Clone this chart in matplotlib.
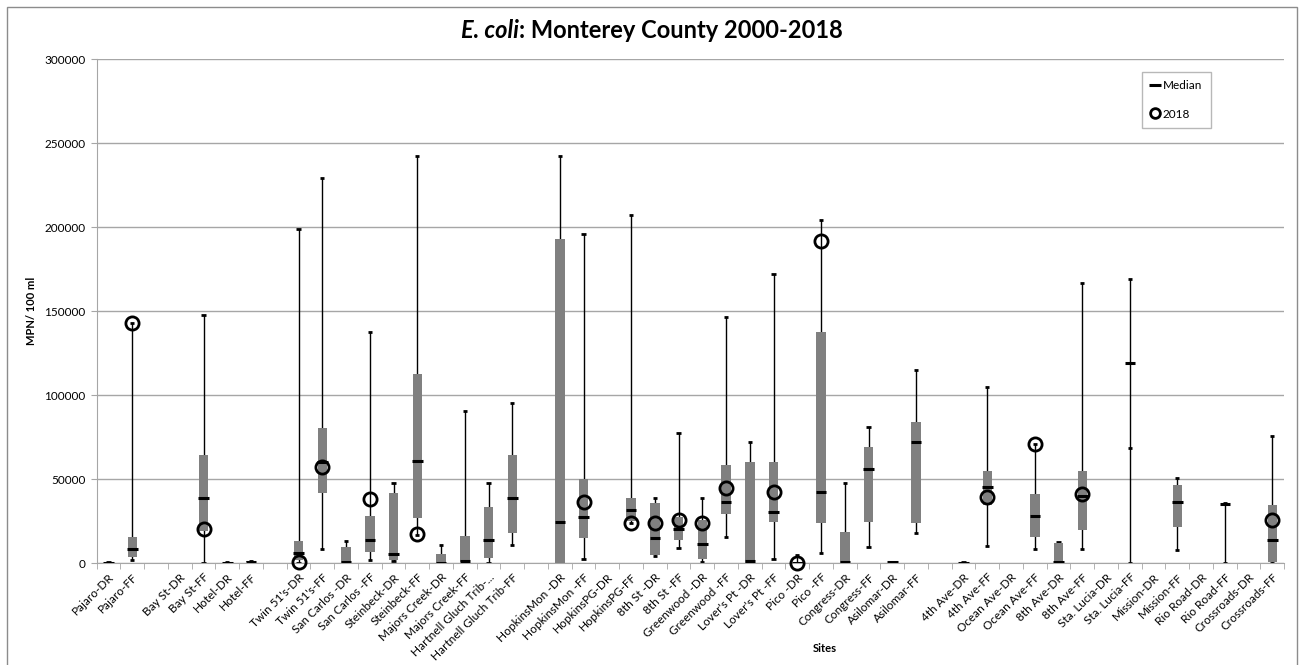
import matplotlib
matplotlib.use("Agg")
import matplotlib.pyplot as plt
from matplotlib.lines import Line2D
from matplotlib.offsetbox import TextArea, HPacker, AnchoredOffsetbox
from matplotlib.patches import Rectangle
import numpy as np

plt.rcParams['font.family'] = ['Lato', 'DejaVu Sans']

sites = ["Pajaro-DR", "Pajaro-FF", "", "Bay St-DR", "Bay St-FF", "Hotel-DR", "Hotel-FF", "",
         "Twin 51's-DR", "Twin 51's-FF", "San Carlos -DR", "San Carlos -FF", "Steinbeck-DR",
         "Steinbeck-FF", "Majors Creek-DR", "Majors Creek-FF", "Hartnell Gluch Trib-...",
         "Hartnell Gluch Trib-FF", "", "HopkinsMon -DR", "HopkinsMon -FF", "HopkinsPG-DR",
         "HopkinsPG-FF", "8th St -DR", "8th St -FF", "Greenwood -DR", "Greenwood -FF",
         "Lover's Pt -DR", "Lover's Pt -FF", "Pico -DR", "Pico -FF", "Congress-DR",
         "Congress-FF", "Asilomar-DR", "Asilomar-FF", "", "4th Ave-DR", "4th Ave-FF",
         "Ocean Ave-DR", "Ocean Ave-FF", "8th Ave-DR", "8th Ave-FF", "Sta. Lucia-DR",
         "Sta. Lucia-FF", "Mission-DR", "Mission-FF", "Rio Road-DR", "Rio Road-FF",
         "Crossroads-DR", "Crossroads-FF"]

N = None
mins = [0, 2000, N, N, 0, 0, 500, N,
        0, 8700, 0, 2000, 1600, 17000, 0, 0, 0, 10700, N,
        0, 2800, N, 24000, 4600, 9300, 600, 15900, 0, 2800, 0, 6300, 0, 9500, 0, 17900, N,
        0, 10500, N, 8500, 0, 8500, N, 0, N, 7900, N, 0, N, 0]
q1s = [0, 4000, N, N, 19000, 0, 600, N,
       2000, 42100, 0, 6900, 2000, 27200, 0, 600, 3200, 18300, N,
       0, 14900, N, 25000, 5000, 13900, 2600, 29400, 0, 24600, 0, 23800, 0, 24800, 200, 23800, N,
       0, 34700, N, 15900, 0, 19800, N, N, N, 21800, N, N, N, 1000]
medians = [100, 8700, N, N, 39100, 100, 1000, N,
           6300, 60000, 1000, 14100, 5600, 60900, 0, 1600, 13900, 39100, N,
           24800, 27800, N, 31700, 15300, 20400, 11300, 36500, 1600, 30600, 200, 42500, 1000, 56300, 800, 72000, N,
           300, 45600, N, 28400, 600, 40000, N, 119000, N, 36300, N, 35500, N, 13900]
q3s = [300, 15900, N, N, 64500, 300, 1200, N,
       13500, 80400, 9900, 28400, 41700, 112700, 5600, 16500, 33700, 64500, N,
       193000, 50000, N, 38700, 35700, 27800, 25800, 58500, 60100, 60100, 1000, 137500, 18800, 69400, 1000, 84300, N,
       500, 55200, N, 41100, 11900, 55000, N, N, N, 46600, N, N, N, 34700]
maxs = [500, 142800, N, N, 147800, 500, 1500, N,
        198800, 229200, 13500, 137300, 47600, 242000, 10700, 90700, 47600, 95200, N,
        242000, 196000, N, 207300, 39100, 77400, 39100, 146800, 72000, 172200, 5000, 204300, 47600, 81300, 1000, 115100, N,
        600, 104600, N, 70800, 12700, 167000, N, 169400, N, 50600, N, 35700, N, 76000]
y2018 = [N, 142800, N, N, 20400, N, N, N,
         600, 57000, N, 38300, N, 17500, N, N, N, N, N,
         N, 36500, N, 24000, 23800, 25800, 23800, 45000, N, 42500, 0, 192000, N, N, N, N, N,
         N, 39700, N, 70800, N, 41100, N, N, N, N, N, N, N, 25800]
extra_caps = {"Sta. Lucia-FF": 68400}

W, H = 1299, 665
fig = plt.figure(figsize=(W / 100, H / 100), dpi=100)
ax = fig.add_axes([96.7 / W, 1 - 563.3 / H, (1284.2 - 96.7) / W, (563.3 - 59) / H])

x = np.arange(len(sites))
box_w = 0.40
cap_w = 0.18
med_w = 0.44
gray = "#808080"

ax.set_axisbelow(True)
ax.yaxis.grid(True, color="#a6a6a6", lw=1.0)

for i, s in enumerate(sites):
    if maxs[i] is not None:
        ax.vlines(i, mins[i], maxs[i], color="black", lw=1.0, zorder=2)
        ax.hlines([mins[i], maxs[i]], i - cap_w / 2, i + cap_w / 2, color="black", lw=2.0, zorder=2)
    if s in extra_caps:
        ax.hlines(extra_caps[s], i - cap_w / 2, i + cap_w / 2, color="black", lw=2.0, zorder=2)
    if q1s[i] is not None:
        ax.bar(i, q3s[i] - q1s[i], bottom=q1s[i], width=box_w, color=gray, zorder=3)
    if medians[i] is not None:
        ax.hlines(medians[i], i - med_w / 2, i + med_w / 2, color="black", lw=2.2, zorder=4)
    if y2018[i] is not None:
        ax.plot(i, y2018[i], marker="o", ms=9.5, mfc="none", mec="black", mew=2.0,
                zorder=5, clip_on=False, ls="none")

ax.set_xlim(-0.5, len(sites) - 0.5)
ax.set_ylim(0, 300000)
ax.set_yticks(np.arange(0, 300001, 50000))
ax.set_yticklabels([str(v) for v in range(0, 300001, 50000)], fontsize=8.5)
ax.set_xticks(x)
ax.set_xticklabels(sites, rotation=45, ha="right", rotation_mode="anchor", fontsize=8.5)
ax.set_xticks(np.arange(-0.5, len(sites), 1), minor=True)
ax.tick_params(axis="x", which="major", length=0, pad=6)
ax.tick_params(axis="x", which="minor", length=4, color="#a6a6a6")
ax.tick_params(axis="y", length=4, color="#a6a6a6", pad=4)
for sp in ["top", "right"]:
    ax.spines[sp].set_visible(False)
for sp in ["left", "bottom"]:
    ax.spines[sp].set_color("#a6a6a6")

ax.set_ylabel("MPN/ 100 ml", fontsize=8, fontweight="bold")
ax.yaxis.set_label_coords(-0.05, 0.5)
fig.text(825 / W, 1 - 648 / H, "Sites", fontsize=8, fontweight="bold", ha="center", va="center")

handles = [Line2D([], [], marker="_", color="black", ls="none", ms=8, mew=2.2),
           Line2D([], [], marker="o", mfc="none", mec="black", mew=2.0, ls="none", ms=7)]
leg = ax.legend(handles, ["Median", "2018"], loc="upper left", bbox_to_anchor=(0.880, 0.975),
                fontsize=8.5, frameon=True, fancybox=False, edgecolor="#a6a6a6",
                handlelength=0.8, handletextpad=0.3, labelspacing=1.5, borderpad=0.7,
                borderaxespad=0)
leg.get_frame().set_linewidth(1.0)

t1 = TextArea("E. coli", textprops=dict(fontsize=17, fontweight="bold", fontstyle="italic"))
t2 = TextArea(": Monterey County 2000-2018", textprops=dict(fontsize=17, fontweight="bold"))
pack = HPacker(children=[t1, t2], align="baseline", pad=0, sep=0)
anch = AnchoredOffsetbox(loc="center", child=pack, frameon=False,
                         bbox_to_anchor=(652 / W, 1 - 31 / H), bbox_transform=fig.transFigure,
                         borderpad=0, pad=0)
fig.add_artist(anch)

fig.add_artist(Rectangle((7 / W, -20 / H), (1297 - 7) / W, (658 + 20) / H, transform=fig.transFigure,
                         fill=False, edgecolor="#8c8c8c", lw=1.0))

fig.savefig("out.png", dpi=100)
